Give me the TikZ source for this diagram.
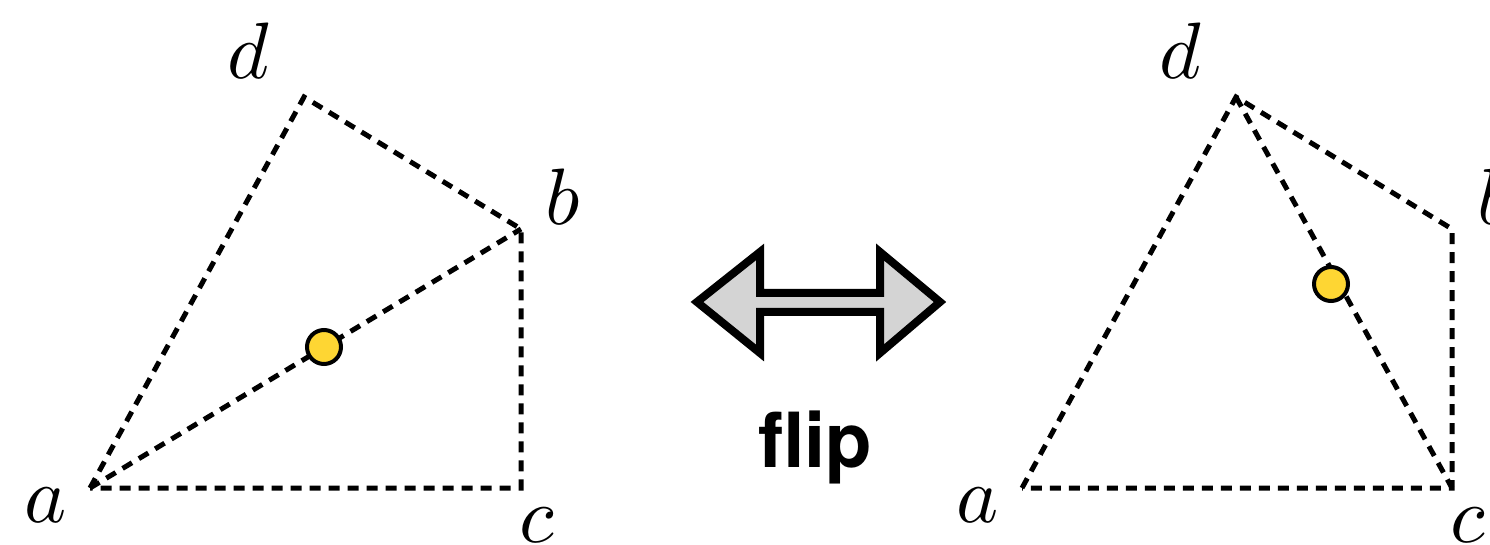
\documentclass[tikz,border=0pt]{standalone}
\usepackage{fontspec}
\newfontfamily\heros{TeX Gyre Heros}
\usepackage{unicode-math}
\definecolor{dotyellow}{RGB}{254,214,51}
\tikzset{
  edge/.style={line width=2.5pt, dash pattern=on 5.5pt off 4pt},
  pt/.style={circle, draw=black, line width=2pt, fill=dotyellow, minimum size=17pt, inner sep=0pt},
  lab/.style={inner sep=0pt, font=\fontsize{40}{44}\selectfont},
}
\begin{document}
\begin{tikzpicture}[x=0.5pt,y=-0.5pt]
\useasboundingbox (0,0) rectangle (1490,545);
% left figure
\coordinate (a1) at (90,488);
\coordinate (c1) at (521,488);
\coordinate (b1) at (521,229);
\coordinate (d1) at (304,97);
\draw[edge] (a1) -- (d1) -- (b1) -- (c1) -- (a1);
\draw[edge] (a1) -- (b1);
\node[pt] (p1) at (324,347) {};
\node[lab] (la1) at (46,505) {$a$};
\node[lab] (lb1) at (563,197) {$b$};
\node[lab] (lc1) at (538,525) {$c$};
\node[lab] (ld1) at (249,51) {$d$};
% right figure
\coordinate (a2) at (1022,488);
\coordinate (c2) at (1452,488);
\coordinate (b2) at (1452,229);
\coordinate (d2) at (1236,97);
\draw[edge] (a2) -- (d2) -- (b2) -- (c2) -- (a2);
\draw[edge] (d2) -- (c2);
\node[pt] (p2) at (1331,284) {};
\node[lab] (la2) at (978,505) {$a$};
\node[lab] (lb2) at (1495,197) {$b$};
\node[lab] (lc2) at (1469,525) {$c$};
\node[lab] (ld2) at (1181,51) {$d$};
% flip arrow
\draw[line width=4pt, fill=black!17, line join=miter]
  (697,302) -- (760,252) -- (760,293) -- (880,293) -- (880,252) -- (940,302)
  -- (880,353) -- (880,312) -- (760,312) -- (760,353) -- cycle;
\node[inner sep=0pt, font=\heros\bfseries\fontsize{38}{40}\selectfont] (flip) at (815,447) {flip};
\end{tikzpicture}
\end{document}
